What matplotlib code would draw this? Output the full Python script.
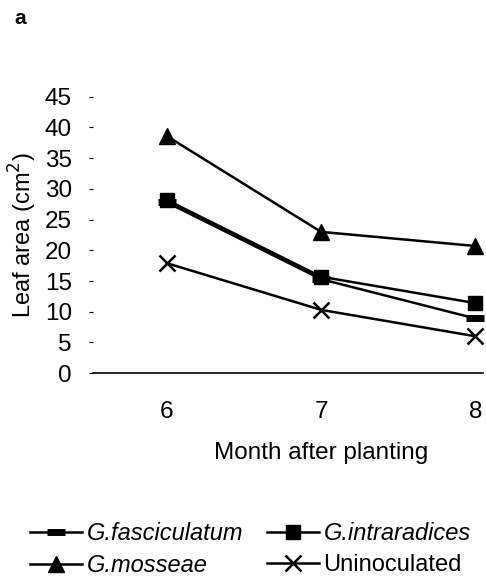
import matplotlib
matplotlib.use("Agg")
import matplotlib.pyplot as plt

months = [6, 7, 8]
fasciculatum = [27.8, 15.3, 8.9]
intraradices = [28.2, 15.7, 11.4]
mosseae = [38.6, 23.0, 20.7]
uninoculated = [17.9, 10.3, 6.0]
yticks = [0, 5, 10, 15, 20, 25, 30, 35, 40, 45]

plt.rcParams['font.family'] = ['Liberation Sans', 'DejaVu Sans']

fig = plt.figure(figsize=(4.86, 5.83), dpi=100)
ax = fig.add_axes([0.191, 0.360, 0.803, 0.474])

lw = 1.8
h1, = ax.plot(months, fasciculatum, color='black', lw=lw, marker='_', ms=13, mew=5,
              label='G.fasciculatum', clip_on=False)
h2, = ax.plot(months, intraradices, color='black', lw=lw, marker='s', ms=10.5,
              label='G.intraradices', clip_on=False)
h3, = ax.plot(months, mosseae, color='black', lw=lw, marker='^', ms=12,
              label='G.mosseae', clip_on=False)
h4, = ax.plot(months, uninoculated, color='black', lw=lw, marker='x', ms=11, mew=1.8,
              label='Uninoculated', clip_on=False)

xmin, xmax = 5.52, 8.05
ax.set_xlim(xmin, xmax)
ax.set_ylim(0, 45)
ax.set_xticks(months)
ax.set_yticks(yticks)
ax.tick_params(axis='both', labelsize=17.5, length=3, color='black')
ax.tick_params(axis='x', length=0, pad=20)
ax.tick_params(axis='y', pad=12)
for s in ['top', 'right', 'left']:
    ax.spines[s].set_visible(False)
ax.spines['bottom'].set_linewidth(1.2)

ax.set_xlabel('Month after planting', fontsize=17.5)
ax.xaxis.set_label_coords((7 - xmin) / (xmax - xmin), -0.25)
ax.set_ylabel('Leaf area (cm$^2$)', fontsize=17, labelpad=4)

leg = fig.legend([h1, h3, h2, h4],
                 ['G.fasciculatum', 'G.mosseae', 'G.intraradices', 'Uninoculated'],
                 ncol=2, loc='lower left', bbox_to_anchor=(0.052, 0.002),
                 frameon=False, fontsize=17, handlelength=2.2, handletextpad=0.2,
                 columnspacing=1.0, labelspacing=0.37, borderpad=0.2,
                 borderaxespad=0.0)
for t in leg.get_texts():
    if t.get_text() != 'Uninoculated':
        t.set_style('italic')

fig.text(0.03, 0.985, 'a', fontsize=15, fontweight='bold', va='top')

fig.savefig('out.png', dpi=100)
